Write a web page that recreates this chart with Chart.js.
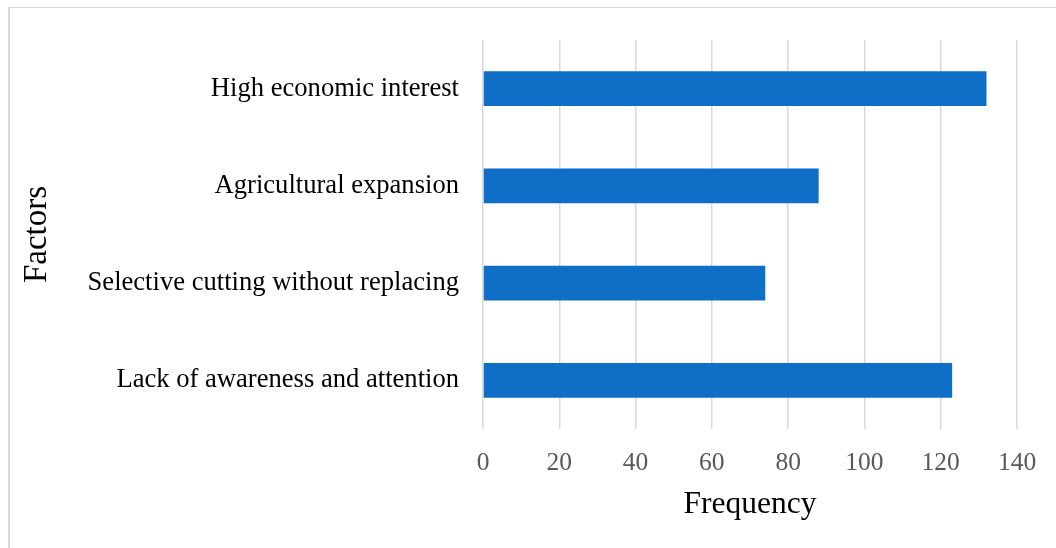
<!DOCTYPE html>
<html>
<head>
<meta charset="utf-8">
<script src="https://cdn.jsdelivr.net/npm/chart.js@4/dist/chart.umd.min.js"></script>
<style>
  html, body { margin: 0; padding: 0; background: #fff; overflow: hidden; }
  #wrap { position: absolute; left: 0; top: 0; width: 1056px; height: 548px; }
  #frame { position: absolute; left: 8px; top: 7px; width: 1100px; height: 600px;
           border-left: 2px solid #d9d9d9; border-top: 1px solid #d9d9d9; }
  canvas { position: absolute; left: 0; top: 0; }
</style>
</head>
<body>
<div id="wrap">
  <div id="frame"></div>
  <canvas id="c" width="1056" height="548"></canvas>
</div>
<script>
const categories = [
  "High economic interest",
  "Agricultural expansion",
  "Selective cutting without replacing",
  "Lack of awareness and attention"
];
const frequency = [132, 88, 74, 123];
const xTicks = [0, 20, 40, 60, 80, 100, 120, 140];

new Chart(document.getElementById('c'), {
  type: 'bar',
  data: {
    labels: categories,
    datasets: [{
      data: frequency,
      backgroundColor: '#0F6FC6',
      borderWidth: 0,
      barPercentage: 0.356,
      categoryPercentage: 1.0
    }]
  },
  options: {
    indexAxis: 'y',
    responsive: false,
    animation: false,
    devicePixelRatio: 1,
    layout: { padding: { top: 36, right: 39, bottom: 0, left: 0 } },
    plugins: { legend: { display: false }, tooltip: { enabled: false } },
    scales: {
      x: {
        min: 0, max: 140,
        afterBuildTicks: (s) => { s.ticks = xTicks.map(v => ({ value: v })); },
        afterFit: (s) => { s.height = 119; },
        grid: { color: '#d9d9d9', lineWidth: 1.5, drawTicks: false },
        border: { display: false },
        ticks: {
          padding: 19,
          color: '#595959',
          font: { family: 'Liberation Serif', size: 25.5 }
        },
        title: {
          display: true, text: 'Frequency', color: '#000',
          font: { family: 'Liberation Serif', size: 31.5 },
          padding: { top: 0, bottom: 24 }
        }
      },
      y: {
        afterFit: (s) => { s.width = 483; },
        grid: { display: false, drawTicks: false },
        border: { display: false },
        ticks: {
          padding: 24,
          color: '#000',
          font: { family: 'Liberation Serif', size: 26.6 }
        },
        title: {
          display: true, text: 'Factors', color: '#000',
          font: { family: 'Liberation Serif', size: 33 },
          padding: { top: 18, bottom: 0 }
        }
      }
    }
  }
});
</script>
</body>
</html>
